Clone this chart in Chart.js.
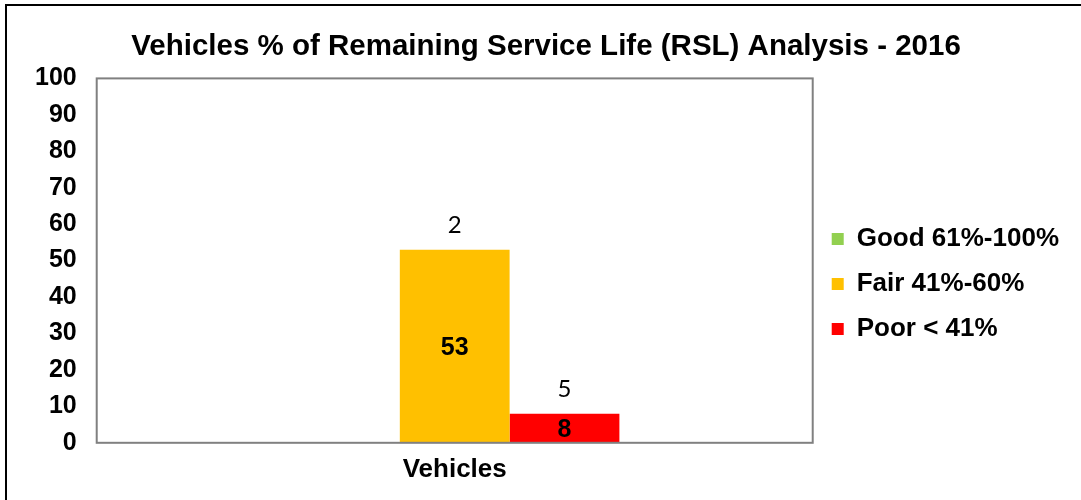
<!DOCTYPE html>
<html>
<head>
<meta charset="utf-8">
<script src="https://cdn.jsdelivr.net/npm/chart.js@4.4.1/dist/chart.umd.min.js"></script>
<style>
  html, body { margin: 0; padding: 0; background: #fff; }
  #frame {
    position: absolute;
    left: 5px;
    top: 4px;
    width: 1074px;
    height: 494px;
    border-left: 2px solid #000;
    border-top: 2px solid #000;
  }
</style>
</head>
<body>
<div id="frame"><canvas id="rsl-chart"></canvas></div>
<script>
const categories = ["Vehicles"];
const seriesNames = ["Good 61%-100%", "Fair 41%-60%", "Poor < 41%"];
const seriesColors = ["#92D050", "#FFC000", "#FF0000"];
const goodValues = [0];
const fairValues = [53];
const poorValues = [8];
// small numbers shown above each bar
const countLabels = [null, 2, 5];
const yTicks = [0, 10, 20, 30, 40, 50, 60, 70, 80, 90, 100];

const seriesValues = [goodValues, fairValues, poorValues];
const FONT = "'Liberation Sans', Arial, sans-serif";

const plotBorder = {
  id: "plotBorder",
  afterDatasetsDraw(chart) {
    const { ctx, chartArea } = chart;
    ctx.save();
    ctx.strokeStyle = "#808080";
    ctx.lineWidth = 2;
    ctx.strokeRect(chartArea.left, chartArea.top, chartArea.right - chartArea.left, chartArea.bottom - chartArea.top);
    ctx.restore();
  }
};

const barLabels = {
  id: "barLabels",
  afterDatasetsDraw(chart) {
    const { ctx } = chart;
    ctx.save();
    ctx.textAlign = "center";
    ctx.textBaseline = "middle";
    ctx.fillStyle = "#000";
    chart.data.datasets.forEach((ds, i) => {
      const meta = chart.getDatasetMeta(i);
      meta.data.forEach((bar, j) => {
        const v = ds.data[j];
        if (!v) return;
        ctx.font = "bold 25px " + FONT;
        ctx.fillText(String(v), bar.x, (bar.y + bar.base) / 2 + 2);
        const c = countLabels[i];
        if (c !== null && c !== undefined) {
          ctx.font = "24px Lato, 'Open Sans', sans-serif";
          ctx.fillText(String(c), bar.x, bar.y - 24);
        }
      });
    });
    ctx.restore();
  }
};

new Chart(document.getElementById("rsl-chart"), {
  type: "bar",
  data: {
    labels: categories,
    datasets: seriesNames.map((name, i) => ({
      label: name,
      data: seriesValues[i],
      backgroundColor: seriesColors[i],
      borderWidth: 0,
      categoryPercentage: 0.46,
      barPercentage: 1
    }))
  },
  options: {
    animation: false,
    responsive: true,
    maintainAspectRatio: false,
    layout: {
      padding: { left: 16, right: 12, bottom: 12 }
    },
    plugins: {
      title: {
        display: true,
        text: "Vehicles % of Remaining Service Life (RSL) Analysis - 2016",
        color: "#000",
        font: { family: FONT, size: 29.5, weight: "bold" },
        padding: { top: 23, bottom: 14 }
      },
      legend: {
        position: "right",
        title: {
          display: true,
          text: " ",
          font: { size: 10 },
          padding: { top: 0, bottom: 62 }
        },
        labels: {
          color: "#000",
          boxWidth: 12,
          boxHeight: 12,
          padding: 19,
          font: { family: FONT, size: 26, weight: "bold" }
        }
      },
      tooltip: { enabled: false }
    },
    scales: {
      x: {
        grid: { display: false },
        border: { display: false },
        ticks: {
          color: "#000",
          font: { family: FONT, size: 26, weight: "bold" }
        }
      },
      y: {
        min: 0,
        max: 100,
        afterBuildTicks(axis) {
          axis.ticks = yTicks.map(v => ({ value: v }));
        },
        grid: { display: false },
        border: { display: false },
        ticks: {
          color: "#000",
          padding: 12,
          font: { family: FONT, size: 25, weight: "bold" }
        }
      }
    }
  },
  plugins: [plotBorder, barLabels]
});
</script>
</body>
</html>
